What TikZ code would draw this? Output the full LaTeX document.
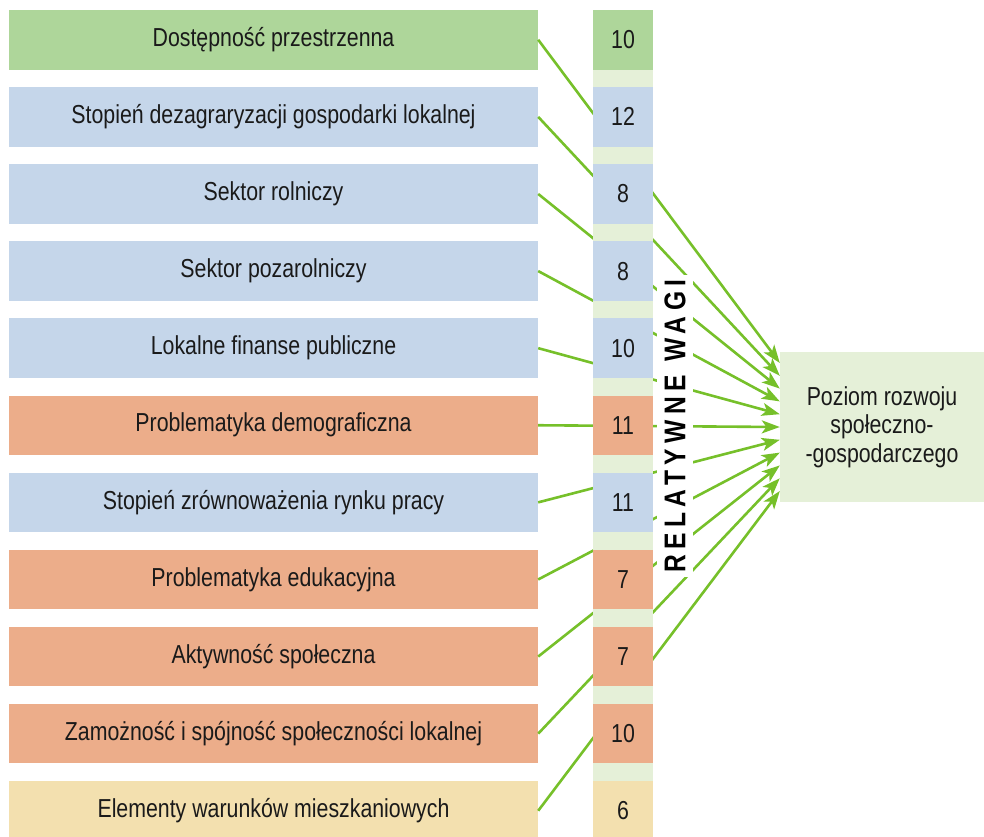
\documentclass[tikz,border=0pt]{standalone}
\usepackage{fontspec}
\setmainfont{Liberation Sans}[FakeStretch=0.82]
\usetikzlibrary{arrows.meta,calc}
\definecolor{cgreen}{HTML}{AED69A}
\definecolor{cblue}{HTML}{C5D6EA}
\definecolor{corange}{HTML}{ECAD8A}
\definecolor{cyellow}{HTML}{F3E0AF}
\definecolor{cpale}{HTML}{E5F0D8}
\definecolor{cline}{HTML}{76C02A}
\definecolor{ctext}{HTML}{1A1A1A}
\begin{document}
\begin{tikzpicture}[x=1pt,y=-1pt,
  factor/.style={rectangle, inner sep=0pt, minimum width=529pt, minimum height=59.5pt, text=ctext, font=\fontsize{26}{30}\selectfont},
  weight/.style={rectangle, inner sep=0pt, minimum width=60pt, minimum height=59.5pt, text=ctext, font=\fontsize{26}{30}\selectfont},
  link/.style={draw=cline, line width=2.6pt, -{Stealth[length=18pt,width=13pt,inset=4.5pt]}},
  target/.style={rectangle, fill=cpale, inner sep=0pt, minimum width=204pt, minimum height=150pt, align=center, text=ctext, font=\fontsize{26}{28.5}\selectfont},
  vlabel/.style={rectangle, rotate=90, fill=white, inner xsep=5pt, inner ysep=7pt, text=black, font=\bfseries\fontsize{30}{34}\selectfont\addfontfeatures{LetterSpace=18}}
]
\useasboundingbox (0,0) rectangle (984,836);

% factor boxes
\node[factor, fill=cgreen]  (L1)  at (273.5, 39.75) {Dostępność przestrzenna};
\node[factor, fill=cblue]   (L2)  at (273.5,116.85) {Stopień dezagraryzacji gospodarki lokalnej};
\node[factor, fill=cblue]   (L3)  at (273.5,193.95) {Sektor rolniczy};
\node[factor, fill=cblue]   (L4)  at (273.5,271.05) {Sektor pozarolniczy};
\node[factor, fill=cblue]   (L5)  at (273.5,348.15) {Lokalne finanse publiczne};
\node[factor, fill=corange] (L6)  at (273.5,425.25) {Problematyka demograficzna};
\node[factor, fill=cblue]   (L7)  at (273.5,502.35) {Stopień zrównoważenia rynku pracy};
\node[factor, fill=corange] (L8)  at (273.5,579.45) {Problematyka edukacyjna};
\node[factor, fill=corange] (L9)  at (273.5,656.55) {Aktywność społeczna};
\node[factor, fill=corange] (L10) at (273.5,733.65) {Zamożność i spójność społeczności lokalnej};
\node[factor, fill=cyellow] (L11) at (273.5,810.75) {Elementy warunków mieszkaniowych};

% target
\node[target] (T) at (882,427) {Poziom rozwoju\\społeczno-\\-gospodarczego};

% connectors
\foreach \i in {1,...,11}{
  \draw[link] (L\i.east) -- ($(T.west)+(0,{(\i-6)*12.8})$);
}

% weights column
\fill[cpale] (593,10) rectangle (653,836);
\node[weight, fill=cgreen]  (W1)  at (623, 39.75) {10};
\node[weight, fill=cblue]   (W2)  at (623,116.85) {12};
\node[weight, fill=cblue]   (W3)  at (623,193.95) {8};
\node[weight, fill=cblue]   (W4)  at (623,271.05) {8};
\node[weight, fill=cblue]   (W5)  at (623,348.15) {10};
\node[weight, fill=corange] (W6)  at (623,425.25) {11};
\node[weight, fill=cblue]   (W7)  at (623,502.35) {11};
\node[weight, fill=corange] (W8)  at (623,579.45) {7};
\node[weight, fill=corange] (W9)  at (623,656.55) {7};
\node[weight, fill=corange] (W10) at (623,733.65) {10};
\node[weight, fill=cyellow] (W11) at (623,810.75) {6};

% vertical label
\node[vlabel] (RW) at (675,426) {RELATYWNE\hspace{14pt}WAGI};
\end{tikzpicture}
\end{document}
